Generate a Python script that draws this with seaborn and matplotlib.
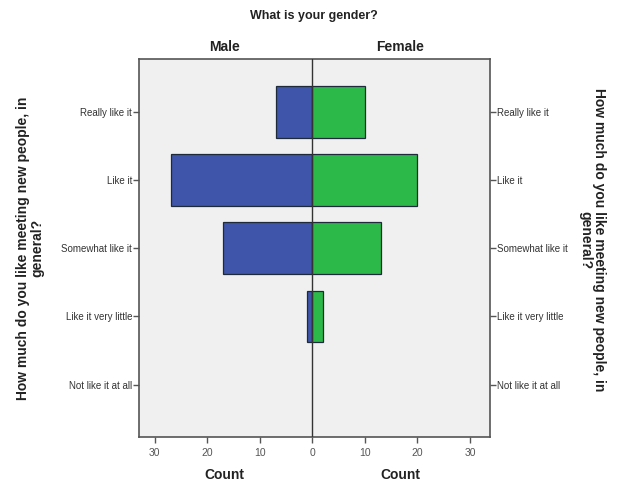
import matplotlib
matplotlib.use("Agg")
import matplotlib.pyplot as plt
import seaborn as sns
import pandas as pd

categories = ["Really like it", "Like it", "Somewhat like it",
              "Like it very little", "Not like it at all"]
male_counts = [7, 27, 17, 1, 0]
female_counts = [10, 20, 13, 2, 0]
genders = ["Male", "Female"]
tick_values = [-30, -20, -10, 0, 10, 20, 30]
tick_labels = ["30", "20", "10", "0", "10", "20", "30"]

question = "How much do you like meeting new people, in\ngeneral?"

# long-form table: male counts drawn to the left as negative values
rows = []
for cat, m, f in zip(categories, male_counts, female_counts):
    rows.append({"answer": cat, "gender": "Male", "count": -m})
    rows.append({"answer": cat, "gender": "Female", "count": f})
df = pd.DataFrame(rows)

sns.set_style("white")
plt.rcParams["font.family"] = ["Liberation Sans", "DejaVu Sans"]

fig = plt.figure(figsize=(6.21, 4.86), dpi=100)
ax = fig.add_axes([0.2238, 0.1008, 0.5652, 0.7778])
ax.set_facecolor("#f0f0f0")

sns.barplot(data=df, x="count", y="answer", hue="gender", order=categories,
            hue_order=genders, palette={"Male": "#3e55aa", "Female": "#2db84a"},
            saturation=1, dodge=False, width=0.76, orient="h",
            edgecolor="#1e2a3a", linewidth=0.9, legend=False, ax=ax)

# empty categories should leave no outline behind
for p in ax.patches:
    if abs(p.get_width()) < 1e-9:
        p.set_linewidth(0)

ax.axvline(0, color="#333333", lw=1.0, zorder=5)

ax.set_xlim(-33.0, 33.8)
ax.set_ylim(4.77, -0.78)
ax.set_xticks(tick_values)
ax.set_xticklabels(tick_labels)
ax.set_yticks(range(len(categories)))
ax.set_yticklabels(categories)
ax.set_xlabel("")
ax.set_ylabel("")

for s in ax.spines.values():
    s.set_color("#555555")
    s.set_linewidth(1.2)

ax.tick_params(axis="y", left=True, right=True, labelleft=True, labelright=True,
               length=4, width=1, color="#555555", labelsize=7,
               labelcolor="#333333", pad=1, direction="out")
ax.tick_params(axis="x", bottom=True, length=4, width=1, color="#555555",
               labelsize=7.5, labelcolor="#555555", pad=4, direction="out")

# panel headings and axis titles for each half
for xpos, name in [(-16.7, "Male"), (16.7, "Female")]:
    ax.text(xpos, 1.012, name, transform=ax.get_xaxis_transform(),
            ha="center", va="bottom", fontsize=10, fontweight="bold",
            color="#222222")
    ax.text(xpos, -0.083, "Count", transform=ax.get_xaxis_transform(),
            ha="center", va="top", fontsize=10, fontweight="bold",
            color="#222222")

fig.text(314 / 621, 1 - 16 / 486, "What is your gender?", ha="center",
         va="center", fontsize=9, fontweight="bold", color="#222222")

fig.text(30 / 621, 1 - 248 / 486, question, rotation=90, ha="center",
         va="center", multialignment="center", fontsize=10,
         fontweight="bold", color="#222222", linespacing=1.0)
fig.text(592 / 621, 1 - 240 / 486, question, rotation=270, ha="center",
         va="center", multialignment="center", fontsize=10,
         fontweight="bold", color="#222222", linespacing=1.0)

fig.savefig("out.png", dpi=100, facecolor="white")
